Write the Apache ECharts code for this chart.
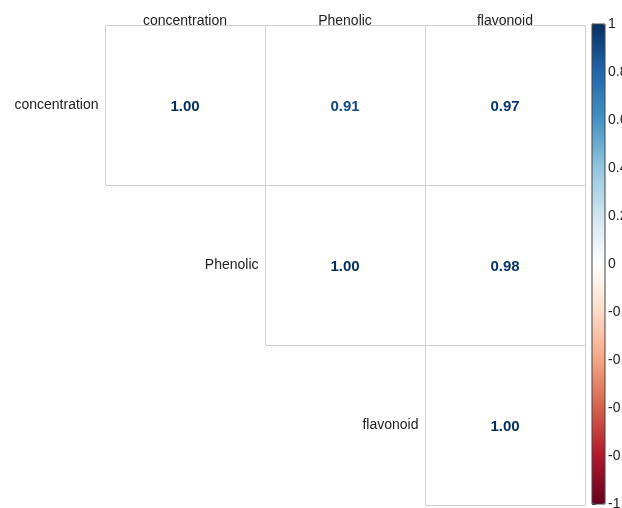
<!DOCTYPE html>
<html>
<head>
<meta charset="utf-8">
<script src="https://cdn.jsdelivr.net/npm/echarts@6/dist/echarts.min.js"></script>
<style>
  html, body { margin: 0; padding: 0; background: #fff; }
  #main { width: 622px; height: 508px; }
</style>
</head>
<body>
<div id="main"></div>
<script>
// variables of the correlation matrix (rows / columns)
var variables = ['concentration', 'Phenolic', 'flavonoid']
// upper triangle, row by row (null = not drawn)
var corrRow1 = [1.00, 0.91, 0.97]
var corrRow2 = [null, 1.00, 0.98]
var corrRow3 = [null, null, 1.00]
var corrRows = [corrRow1, corrRow2, corrRow3]

// RdBu palette as used by corrplot
var rdbu = ['#67001F', '#B2182B', '#D6604D', '#F4A582', '#FDDBC7', '#FFFFFF',
  '#D1E5F0', '#92C5DE', '#4393C3', '#2166AC', '#053061']

var cells = []
corrRows.forEach(function(row, r) {
  row.forEach(function(v, c) {
    if (v !== null) cells.push([c, r, v])
  })
})

var font = 'Liberation Sans, Arial, sans-serif'
var myChart = echarts.init(document.getElementById('main'))

var option = {
  backgroundColor: '#fff',
  animation: false,
  grid: [
    { left: 105, top: 25, width: 480, height: 480, outerBoundsMode: 'none' },
    { left: 592, top: 24, width: 13, height: 480, show: true, z: 10, outerBoundsMode: 'none',
      borderColor: '#444', borderWidth: 1, backgroundColor: 'transparent' }
  ],
  xAxis: [
    {
      type: 'category',
      gridIndex: 0,
      position: 'top',
      data: variables,
      axisLine: { show: false },
      axisTick: { show: false },
      splitLine: { show: false },
      axisLabel: { color: '#222', fontSize: 14, fontFamily: font, margin: -3 }
    },
    { type: 'value', gridIndex: 1, show: false }
  ],
  yAxis: [
    {
      type: 'category',
      gridIndex: 0,
      inverse: true,
      data: variables,
      show: false
    },
    {
      type: 'value',
      gridIndex: 1,
      min: -1,
      max: 1,
      interval: 0.2,
      position: 'right',
      axisLine: { show: true, lineStyle: { color: '#444' } },
      axisTick: { show: true, length: 4, lineStyle: { color: '#444' } },
      splitLine: { show: false },
      axisLabel: {
        color: '#222', fontSize: 14, fontFamily: font, margin: 3,
        formatter: function(v) { return String(+v.toFixed(1)) }
      }
    }
  ],
  visualMap: {
    type: 'continuous',
    min: -1,
    max: 1,
    dimension: 2,
    seriesIndex: 0,
    calculable: false,
    left: 592,
    top: 24,
    padding: 0,
    itemWidth: 13,
    itemHeight: 480,
    inRange: { color: rdbu }
  },
  series: [{
    type: 'custom',
    xAxisIndex: 0,
    yAxisIndex: 0,
    data: cells,
    renderItem: function(params, api) {
      var c = api.value(0)
      var r = api.value(1)
      var v = api.value(2)
      var p = api.coord([c, r])
      var s = api.size([1, 1])
      var x0 = Math.round(p[0] - s[0] / 2) + 0.5
      var y0 = Math.round(p[1] - s[1] / 2) + 0.5
      var children = [{
        type: 'rect',
        shape: { x: x0, y: y0, width: Math.round(s[0]), height: Math.round(s[1]) },
        style: { fill: 'none', stroke: '#cfcfcf', lineWidth: 1 }
      }, {
        type: 'text',
        x: p[0],
        y: p[1] + 2,
        style: {
          text: v.toFixed(2),
          fill: api.visual('color'),
          font: 'bold 15px ' + font,
          align: 'center',
          verticalAlign: 'middle'
        }
      }]
      if (c === r) {
        children.push({
          type: 'text',
          x: x0 - 7,
          y: p[1],
          style: {
            text: variables[r],
            fill: '#222',
            font: '14px ' + font,
            align: 'right',
            verticalAlign: 'middle'
          }
        })
      }
      return { type: 'group', children: children }
    }
  }]
}

myChart.setOption(option)
</script>
</body>
</html>
